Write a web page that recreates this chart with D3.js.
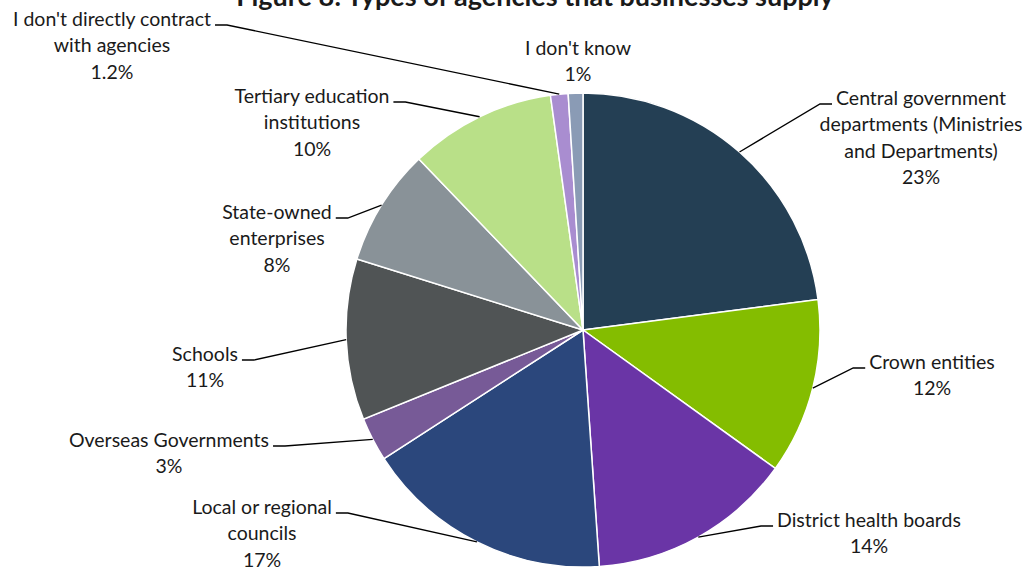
<!DOCTYPE html>
<html>
<head>
<meta charset="utf-8">
<script src="https://cdn.jsdelivr.net/npm/d3@7"></script>
<style>
  html, body { margin: 0; padding: 0; background: #ffffff; }
  svg { display: block; }
  text { font-family: Lato, "Open Sans", sans-serif; fill: #1a1a1a; }
</style>
</head>
<body>
<svg id="chart" width="1028" height="570"></svg>
<script>
// Agency types and share of businesses supplying each (%)
const categories = [
  "Central government departments (Ministries and Departments)",
  "Crown entities",
  "District health boards",
  "Local or regional councils",
  "Overseas Governments",
  "Schools",
  "State-owned enterprises",
  "Tertiary education institutions",
  "I don't directly contract with agencies",
  "I don't know"
];
const shares = [23, 12, 14, 17, 3, 11, 8, 10, 1.2, 1];
const shareLabels = ["23%", "12%", "14%", "17%", "3%", "11%", "8%", "10%", "1.2%", "1%"];

// Wrapped label lines for each category
const labelLines = [
  ["Central government", "departments (Ministries", "and Departments)"],
  ["Crown entities"],
  ["District health boards"],
  ["Local or regional", "councils"],
  ["Overseas Governments"],
  ["Schools"],
  ["State-owned", "enterprises"],
  ["Tertiary education", "institutions"],
  ["I don't directly contract", "with agencies"],
  ["I don't know"]
];

const sliceColors = [
  "#243f54", "#84bd00", "#6a35a6", "#2b477c", "#775a97",
  "#505455", "#899298", "#b9e088", "#a98dd0", "#8a9bb5"
];

// Label placement: centre x and first baseline y; side tells which way the leader goes
const labelPlacement = [
  { x: 921, y: 105, side: "right", leader: true },
  { x: 932, y: 369, side: "right", leader: true },
  { x: 869, y: 527, side: "right", leader: true },
  { x: 262, y: 514, side: "left", leader: true },
  { x: 169, y: 447, side: "left", leader: true },
  { x: 205, y: 361, side: "left", leader: true },
  { x: 277, y: 219, side: "left", leader: true },
  { x: 312, y: 103, side: "left", leader: true },
  { x: 112, y: 26, side: "left", leader: true },
  { x: 578, y: 55, side: "none", leader: false }
];

const title = "Figure 8: Types of agencies that businesses supply";

const svg = d3.select("#chart");
const cx = 583, cy = 330, radius = 237;
const lineHeight = 26.3;
const fontSize = 19.5;

svg.append("text")
  .attr("x", 535)
  .attr("y", 6)
  .attr("text-anchor", "middle")
  .style("font-size", "27px")
  .style("font-weight", "bold")
  .text(title);

const pie = d3.pie().sort(null).value(d => d.value);
const data = categories.map((c, i) => ({ name: c, value: shares[i], i }));
const arcs = pie(data);
const arc = d3.arc().innerRadius(0).outerRadius(radius);

const g = svg.append("g").attr("transform", `translate(${cx},${cy})`);
g.selectAll("path.slice")
  .data(arcs)
  .join("path")
  .attr("class", "slice")
  .attr("d", arc)
  .attr("fill", d => sliceColors[d.data.i])
  .attr("stroke", "#ffffff")
  .attr("stroke-width", 1.5);

// Labels with elbow leader lines to the slice edge
const labelsG = svg.append("g");
arcs.forEach(a => {
  const i = a.data.i;
  const p = labelPlacement[i];
  const lines = labelLines[i].concat([shareLabels[i]]);
  const t = labelsG.append("text")
    .attr("text-anchor", "middle")
    .style("font-size", fontSize + "px");
  lines.forEach((ln, k) => {
    t.append("tspan").attr("x", p.x).attr("y", p.y + k * lineHeight).text(ln);
  });
  if (!p.leader) return;
  const firstW = t.select("tspan").node().getComputedTextLength();
  const mid = (a.startAngle + a.endAngle) / 2;
  const ex = cx + radius * Math.sin(mid);
  const ey = cy - radius * Math.cos(mid);
  const ly = p.y - 1;
  let x1, x2;
  if (p.side === "left") {
    x1 = p.x + firstW / 2 + 4;
    x2 = x1 + 12;
  } else {
    x1 = p.x - firstW / 2 - 4;
    x2 = x1 - 12;
  }
  labelsG.append("path")
    .attr("d", d3.line()([[x1, ly], [x2, ly], [ex, ey]]))
    .attr("fill", "none")
    .attr("stroke", "#000000")
    .attr("stroke-width", 1.3);
});
</script>
</body>
</html>
